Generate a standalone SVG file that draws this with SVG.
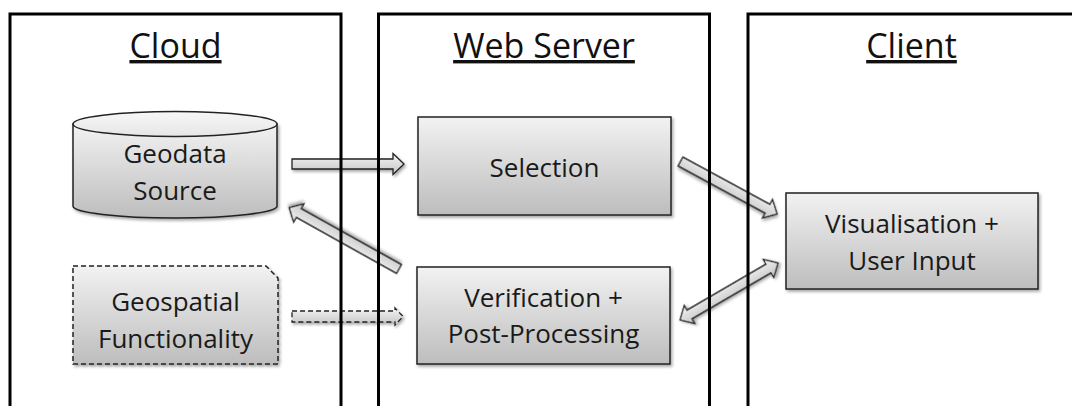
<svg xmlns="http://www.w3.org/2000/svg" width="1072" height="406" viewBox="0 0 1072 406">
  <defs>
    <linearGradient id="boxFill" x1="0" y1="0" x2="0" y2="1">
      <stop offset="0" stop-color="#f2f2f2"/>
      <stop offset="1" stop-color="#bdbdbd"/>
    </linearGradient>
    <linearGradient id="topFill" x1="0" y1="0" x2="0" y2="1">
      <stop offset="0" stop-color="#f7f7f7"/>
      <stop offset="1" stop-color="#e6e6e6"/>
    </linearGradient>
    <linearGradient id="arrowFill" x1="0" y1="0" x2="0" y2="1">
      <stop offset="0" stop-color="#f4f4f4"/>
      <stop offset="1" stop-color="#c4c4c4"/>
    </linearGradient>
    <filter id="shadow" x="-20%" y="-20%" width="140%" height="140%">
      <feDropShadow dx="1.5" dy="2" stdDeviation="1.8" flood-color="#000" flood-opacity="0.35"/>
    </filter>
  </defs>
  <style>
    .panel { fill: none; stroke: #000; stroke-width: 3; }
    .title { font-family: "Open Sans", "Liberation Sans", sans-serif; font-size: 34px; fill: #111; text-anchor: middle; text-decoration: underline; }
    .box { fill: url(#boxFill); stroke: #222; stroke-width: 1.5; filter: url(#shadow); }
    .dashed { stroke-dasharray: 5 3; }
    .label { font-family: "Open Sans", "Liberation Sans", sans-serif; font-size: 26px; fill: #1a1a1a; text-anchor: middle; }
    .arrow { fill: url(#arrowFill); stroke: #222; stroke-width: 1.3; filter: url(#shadow); }
  </style>

  <rect width="1072" height="406" fill="#fff"/>

  <!-- connectors -->
  <g id="connectors">
    <path class="arrow" transform="translate(292,164)" d="M0,-5 H101 V-10.5 L112,0 L101,10.5 V5 H0 Z"/>
    <path class="arrow" transform="translate(399,269) rotate(209.2)" d="M0,-5 H114.8 V-10.5 L125.8,0 L114.8,10.5 V5 H0 Z"/>
    <path class="arrow dashed" transform="translate(292,316.5)" d="M0,-5.5 H103 V-8.5 L111,0 L103,8.5 V5.5 H0 Z"/>
    <path class="arrow" transform="translate(680.5,161.5) rotate(28.5)" d="M0,-5 H99 V-10.5 L110,0 L99,10.5 V5 H0 Z"/>
    <path class="arrow" transform="translate(680,320) rotate(-30.2)" d="M0,0 L11,-10.5 V-5 H102.4 V-10.5 L113.4,0 L102.4,10.5 V5 H11 V10.5 Z"/>
  </g>

  <!-- tiers -->
  <g id="cloud">
    <rect class="panel" x="10" y="14" width="331" height="420"/>
    <text class="title" x="175.5" y="58">Cloud</text>
  </g>
  <g id="web-server">
    <rect class="panel" x="378.5" y="14" width="331" height="420"/>
    <text class="title" x="544" y="58">Web Server</text>
  </g>
  <g id="client">
    <rect class="panel" x="748" y="14" width="340" height="420"/>
    <text class="title" x="911.5" y="58">Client</text>
  </g>

  <!-- nodes -->
  <g id="geodata-source">
    <path class="box" d="M73,124 V206 A102,12 0 0 0 277,206 V124 Z"/>
    <ellipse cx="175" cy="124" rx="102" ry="12.5" fill="url(#topFill)" stroke="#222" stroke-width="1.5"/>
    <text class="label" x="175" y="163">Geodata</text>
    <text class="label" x="175" y="200">Source</text>
  </g>
  <g id="geospatial-functionality">
    <path class="box dashed" d="M73,266 H266 L278,278 V364 H73 Z"/>
    <text class="label" x="175.5" y="311">Geospatial</text>
    <text class="label" x="175.5" y="348">Functionality</text>
  </g>
  <g id="selection">
    <rect class="box" x="418" y="117" width="253" height="98"/>
    <text class="label" x="544.5" y="177">Selection</text>
  </g>
  <g id="verification">
    <rect class="box" x="417" y="267" width="253" height="97"/>
    <text class="label" x="543.5" y="307">Verification +</text>
    <text class="label" x="543.5" y="343">Post-Processing</text>
  </g>
  <g id="visualisation">
    <rect class="box" x="786" y="193" width="252" height="96"/>
    <text class="label" x="912" y="233">Visualisation +</text>
    <text class="label" x="912" y="270">User Input</text>
  </g>
</svg>
